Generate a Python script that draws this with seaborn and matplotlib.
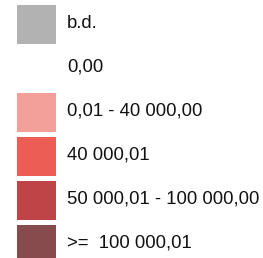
import matplotlib
matplotlib.use("Agg")
import matplotlib.pyplot as plt
import seaborn as sns

# legend classes (Polish number formatting)
labels = ["b.d.", "0,00", "0,01 - 40 000,00", "40 000,01",
          "50 000,01 - 100 000,00", ">=  100 000,01"]
colors = ["#b2b2b2", "#ffffff", "#f4a09a", "#ec5e55", "#be4447", "#874b4d"]

sns.set_theme(style="white")
plt.rcParams['font.family'] = ['Liberation Sans', 'DejaVu Sans']

W, H = 263, 258
fig = plt.figure(figsize=(W / 100, H / 100), dpi=100)
fig.patch.set_facecolor("white")

# axes in pixel units, y pointing down
ax = fig.add_axes([0, 0, 1, 1])
ax.set_xlim(0, W)
ax.set_ylim(H, 0)
ax.axis("off")

palette = sns.color_palette(colors)
step, size, top0 = 44, 39, 5
for i, (lab, col) in enumerate(zip(labels, palette)):
    top = top0 + step * i
    ax.bar(17, size, width=size, bottom=top, align="edge",
           color=col, edgecolor="none")
    ax.text(67, top + 23, lab, fontsize=13.3, va="baseline", ha="left",
            color="#111111")

fig.savefig("out.png", dpi=100, facecolor="white")
